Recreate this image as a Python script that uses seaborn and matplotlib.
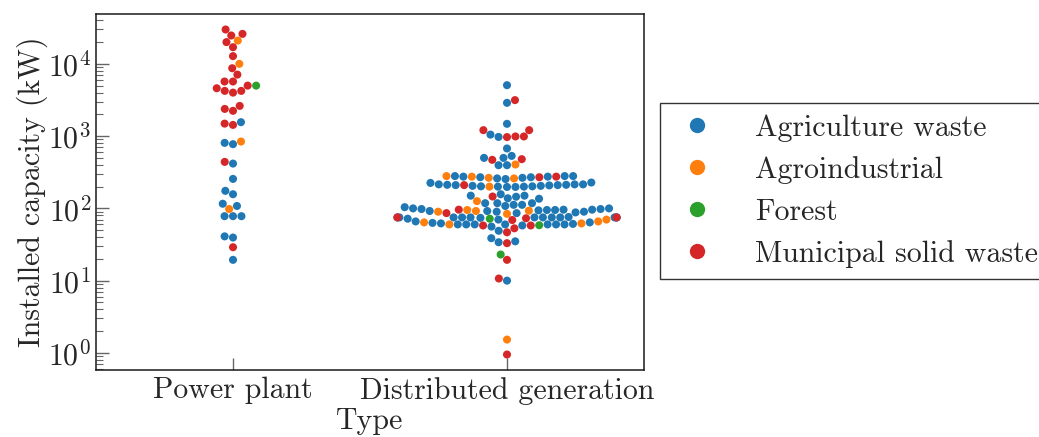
import numpy as np
import pandas as pd
import matplotlib
matplotlib.use("Agg")
import matplotlib.pyplot as plt
import seaborn as sns

# ---------------- data ----------------
types = ["Power plant", "Distributed generation"]
sources = ["Agriculture waste", "Agroindustrial", "Forest", "Municipal solid waste"]
colors = ["#1f77b4", "#ff7f0e", "#2ca02c", "#d62728"]

pp_agri = [1560, 807, 774, 417, 256, 175, 157, 116, 108, 78, 78, 78, 41, 39.5, 19.4]
pp_agro = [21000, 10000, 841, 98]
pp_forest = [5000]
pp_msw = [29900, 26000, 24700, 20000, 17000, 12800, 8700, 7100, 5700, 5700, 5000,
          4600, 4230, 4230, 4000, 2620, 2380, 2240, 1490, 1430, 440, 29]

dg_agri = [5070, 2890, 1480, 1050, 975, 675, 533, 500, 500, 396, 396,
           280, 280, 280, 275, 275, 270, 270, 265, 260, 255,
           228, 225, 215, 215, 215, 212, 212, 210, 210, 208, 205, 205, 202, 202, 200, 200, 198, 198,
           157, 150, 150, 145, 138, 136, 118, 118, 118, 112, 112, 108, 104,
           100, 100, 98, 98, 96, 96, 95, 95, 94, 92, 92, 90, 90, 88, 86,
           76, 75, 75, 75, 75, 75, 75, 75, 75, 75, 75, 75, 75, 74, 72, 70,
           66, 64, 63, 62, 61, 60, 60, 60, 60, 60, 60, 60, 58, 56,
           49, 38.7, 35, 34, 10]
dg_agro = [405, 280, 275, 265, 260, 200, 126, 93, 95, 92, 90, 84, 70, 66, 64, 62, 60, 1.53]
dg_forest = [72, 58.5, 23]
dg_msw = [3150, 1210, 1210, 990, 990, 970, 480, 470, 275, 270, 210, 146, 96, 86,
          75, 73, 69, 75, 58, 58, 53, 46.7, 33, 19.4, 10.7, 0.95]

rows = []
for t, groups in zip(types, [[pp_agri, pp_agro, pp_forest, pp_msw],
                             [dg_agri, dg_agro, dg_forest, dg_msw]]):
    for s, vals in zip(sources, groups):
        for v in vals:
            rows.append((t, s, v))
df = pd.DataFrame(rows, columns=["Type", "Source", "Capacity"])

# ---------------- style ----------------
FS = 21.5
sns.set_style("ticks")
plt.rcParams["font.family"] = ["cmr10", "DejaVu Serif"]
plt.rcParams["mathtext.fontset"] = "cm"
plt.rcParams["axes.formatter.use_mathtext"] = True
plt.rcParams["axes.unicode_minus"] = False
plt.rcParams["font.size"] = FS
plt.rcParams["xtick.direction"] = "in"
plt.rcParams["ytick.direction"] = "in"

fig = plt.figure(figsize=(10.39, 4.37), dpi=100)
ax = fig.add_axes([96 / 1039, 67 / 437, 548 / 1039, 356 / 437])
ax.set_yscale("log")
ax.set_ylim(0.58, 49000)

sns.swarmplot(data=df, x="Type", y="Capacity", hue="Source", order=types,
              hue_order=sources, palette=colors, size=5.8, ax=ax)

ax.set_ylim(0.58, 49000)
ax.set_xlabel("Type", fontsize=FS, labelpad=2)
ax.set_ylabel("Installed capacity (kW)", fontsize=FS, labelpad=0)
ax.tick_params(axis="both", which="major", labelsize=FS, length=9, width=1, color="0.4")
ax.tick_params(axis="x", which="major", pad=5)
ax.tick_params(axis="y", which="minor", length=5, width=0.8, color="0.4")
for sp in ax.spines.values():
    sp.set_visible(True)
    sp.set_color("0.1")
    sp.set_linewidth(1.1)

sns.move_legend(ax, "center left", bbox_to_anchor=(660 / 1039, 1 - 191 / 437),
                bbox_transform=fig.transFigure, title=None, frameon=True,
                fancybox=False, edgecolor="0.2", fontsize=FS, markerscale=1.9,
                labelspacing=0.48, handlelength=1.7, handletextpad=1.09,
                borderpad=0.38, borderaxespad=0, framealpha=1)
ax.get_legend().get_frame().set_linewidth(1.0)

fig.savefig("out.png", dpi=100)
